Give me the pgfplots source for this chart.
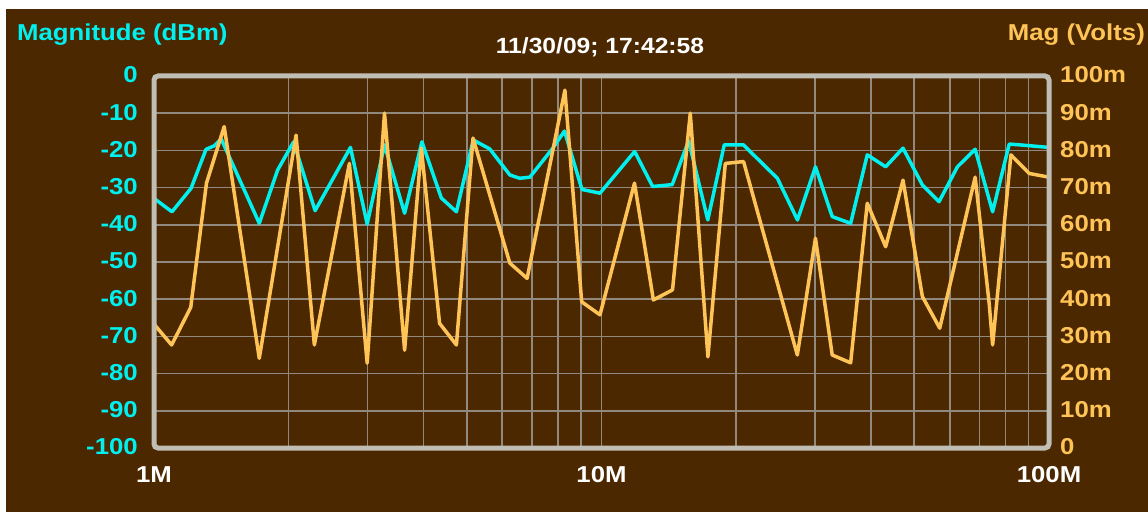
\documentclass[border=0pt]{standalone}
\usepackage{pgfplots}
\pgfplotsset{compat=1.18}
\usepackage{fontspec}
\setmainfont{Liberation Sans}
\newfontfamily\lab{Liberation Sans}[FakeStretch=1.12]
\definecolor{bg}{RGB}{76,40,0}
\definecolor{cy}{RGB}{0,240,240}
\definecolor{orng}{RGB}{255,196,88}
\definecolor{gridc}{RGB}{145,137,125}
\definecolor{framec}{RGB}{192,190,180}
\newcommand{\tf}{\lab\bfseries\fontsize{23}{23}\selectfont}

\pgfplotstableread{
f v
1.000 -32.9
1.097 -36.5
1.210 -30.2
1.307 -19.7
1.362 -18.8
1.413 -16.9
1.719 -39.6
1.889 -25.3
2.051 -17.7
2.291 -36.2
2.748 -19.2
2.995 -39.8
3.274 -18.5
3.631 -36.9
3.970 -17.7
4.386 -32.8
4.740 -36.5
5.169 -17.2
5.627 -19.6
6.240 -26.6
6.569 -27.5
6.917 -27.2
7.787 -19.4
8.264 -14.8
9.045 -30.5
9.922 -31.5
11.86 -20.3
13.01 -29.7
14.39 -29.2
15.66 -17.4
17.28 -38.7
18.81 -18.5
20.75 -18.5
24.72 -27.5
27.41 -38.7
30.07 -24.4
32.78 -37.8
36.04 -39.6
39.26 -21.2
43.15 -24.4
47.18 -19.4
52.13 -29.3
56.79 -33.8
62.44 -24.4
68.39 -19.7
74.82 -36.5
81.5 -18.3
85.7 -18.5
100 -19.2
}\dbm

\pgfplotstableread{
f v
1.000 33.3
1.095 27.7
1.208 37.8
1.310 71.2
1.435 86.4
1.719 24.1
2.077 84.1
2.282 27.7
2.733 76.5
2.995 22.8
3.274 90.0
3.631 26.3
3.957 80.6
4.347 33.5
4.740 27.7
5.163 83.3
6.240 49.7
6.820 45.6
8.284 96.2
9.030 39.3
9.922 35.8
11.85 71.2
13.06 39.8
14.41 42.5
15.79 90.0
17.29 24.5
18.91 76.5
20.77 77.0
27.39 25.0
30.07 56.4
32.78 25.0
36.04 22.9
39.26 65.8
43.15 54.1
47.18 72.0
52.13 40.7
57.00 32.2
68.39 72.8
73.50 38.9
74.82 27.7
82.20 78.8
90.30 73.8
100 72.8
}\volts

\begin{document}
\begin{tikzpicture}[x=1pt,y=1pt]
\fill[white] (0,0) rectangle (1148,512);
\fill[bg] (6,0) rectangle (1148,503);
\begin{axis}[
  at={(154pt,64pt)}, anchor=south west,
  scale only axis, width=895pt, height=372pt,
  xmode=log, xmin=1, xmax=100, ymin=-100, ymax=0,
  xtick={1,10,100}, xticklabels={1M,10M,100M},
  minor xtick={2,3,4,5,6,7,8,9,20,30,40,50,60,70,80,90},
  ytick={-100,-90,-80,-70,-60,-50,-40,-30,-20,-10,0},
  yticklabels={-100,-90,-80,-70,-60,-50,-40,-30,-20,-10,0},
  grid=both,
  major grid style={draw=gridc, line width=1.6pt},
  minor grid style={draw=gridc, line width=1.6pt},
  axis line style={draw=none},
  major tick length=0pt, minor tick length=0pt,
  tick style={draw=none},
  xticklabel style={font=\tf, text=white, inner sep=0pt, anchor=north, yshift=-18pt},
  yticklabel style={font=\tf, text=cy, inner sep=0pt, anchor=east, xshift=-16pt, yshift=1pt},
  clip=false,
]
\addplot[cy, line width=3.5pt, line join=round] table[x=f, y=v] {\dbm};
\end{axis}
\begin{axis}[
  at={(154pt,64pt)}, anchor=south west,
  scale only axis, width=895pt, height=372pt,
  xmode=log, xmin=1, xmax=100, ymin=0, ymax=100,
  hide x axis,
  axis y line*=right,
  axis line style={draw=none},
  ytick={0,10,20,30,40,50,60,70,80,90,100},
  yticklabels={0,10m,20m,30m,40m,50m,60m,70m,80m,90m,100m},
  major tick length=0pt, tick style={draw=none},
  yticklabel style={font=\tf, text=orng, inner sep=0pt, anchor=west, xshift=11pt, yshift=1pt},
  clip=false,
]
\addplot[orng, line width=3.5pt, line join=round] table[x=f, y=v] {\volts};
\draw[framec, line width=5pt, rounded corners=4pt] (rel axis cs:0,0) rectangle (rel axis cs:1,1);
\end{axis}
\node[anchor=west, text=cy, font=\tf, inner sep=0pt] at (17,477) {Magnitude (dBm)};
\node[anchor=east, text=orng, font=\tf, inner sep=0pt] at (1145,477) {Mag (Volts)};
\node[text=white, font=\lab\bfseries\fontsize{22}{22}\selectfont, inner sep=0pt] at (600,465) {11/30/09; 17:42:58};
\end{tikzpicture}
\end{document}
